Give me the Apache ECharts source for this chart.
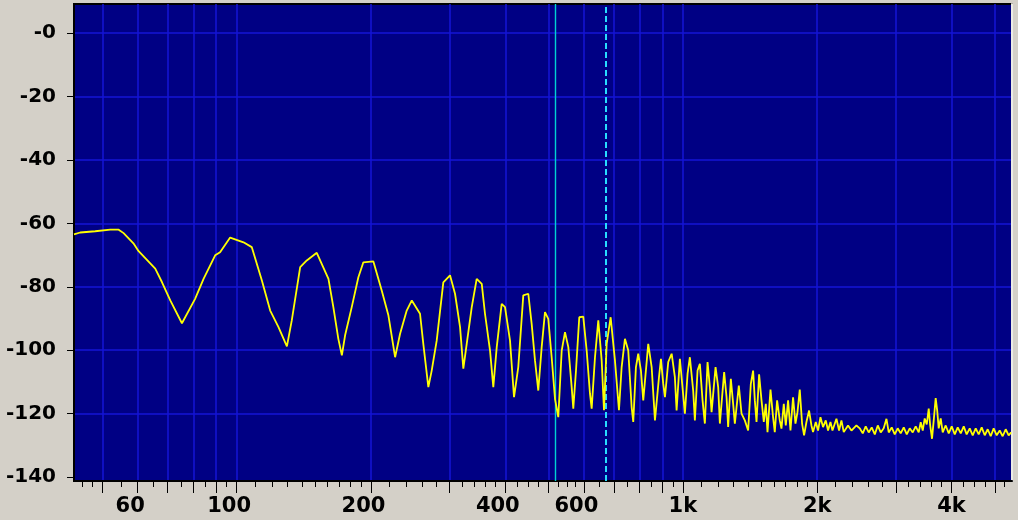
<!DOCTYPE html>
<html><head><meta charset="utf-8">
<script src="https://cdn.jsdelivr.net/npm/echarts@6/dist/echarts.min.js"></script>
<style>html,body{margin:0;padding:0;background:#d4d0c8;}#c{width:1018px;height:520px;}</style>
</head><body><div id="c"></div>
<script>
// Spectrum trace: frequency (Hz) and level (dB)
const freqHz = [43.2,44.6,48.2,52.1,54.4,55.8,58.7,60.3,65.7,68.0,71.0,75.4,80.7,84.3,89.5,91.8,96.7,103.6,108.1,113.9,118.9,124.1,129.6,132.9,138.8,143.6,151.2,160.6,
164.7,169.0,172.1,175.0,181.1,187.4,192.3,202.5,211.4,218.8,226.5,232.4,240.5,246.9,257.6,262.0,268.9,273.6,280.8,290.5,300.7,308.6,316.7,322.1,327.8,336.4,345.1,354.2,360.2,369.7,376.0,382.7,392.6,399.4,409.8,418.4,427.7,438.9,450.4,458.3,466.2,474.2,482.6,490.9,499.3,508.1,516.9,525.8,535.1,544.3,553.7,563.4,568.1,576.1,585.9,598.1,608.7,619.2,624.6,635.4,646.3,657.7,665.6,674.9,688.9,704.3,719.1,729.1,741.6,754.4,767.7,774.1,784.9,794.3,805.4,815.1,836.4,
851.2,865.8,884.0,893.0,903.7,911.7,927.3,943.7,959.6,968.1,984.7,996.5,1010.4,1024.5,1036.8,1054.6,1063.9,1078.7,1091.7,1106.9,1120.2,1135.8,1149.5,1159.6,1183.7,1199.8,1210.3,1237.4,1252.8,1263.2,1280.8,1296.2,1307.6,1334.7,1353.6,1376.8,1400.5,1420.0,1436.8,
1449.6,1462.3,1482.0,1500.5,1518.3,1534.1,1547.6,1571.7,1592.8,1606.8,1626.2,1648.8,1663.3,1683.3,1700.8,1720.9,1742.4,1765.8,1787.8,1806.5,1827.9,1849.9,1869.1,1892.0,1917.9,1941.4,1957.6,1985.3,2008.8,2034.0,2061.3,2090.5,2115.2,2141.6,2163.9,2208.7,2238.9,2266.4,2293.7,2345.0,2386.4,2448.8,
2491,2530,2569,2609,2650,2692,2734,2776,2819,2859,2893,2938,2984,3030,3077,3126,3175,3224,3274,3325,3377,3412,3448,3483,3520,3556,3583,3617,3649,3686,3715,3744,3783,3822,3882,3943,4004,4067,4130,4195,4260,4325,4394,4462,4532,4602,4674,4747,4821,4896,4972,5050,5129,5208,5290,5372,5442];
const levelDb = [-63.5,-62.9,-62.5,-62.0,-62.0,-63.1,-66.3,-68.8,-74.3,-78.5,-84.3,-91.5,-83.8,-77.5,-70.1,-69.1,-64.5,-66.0,-67.5,-78.0,-87.5,-92.7,-98.8,-90.6,-73.8,-71.7,-69.3,-77.5,
-86.4,-96.4,-101.6,-95.3,-86.4,-77.0,-72.3,-72.0,-81.2,-89.0,-102.2,-94.8,-87.5,-84.3,-88.5,-98.0,-111.6,-106.4,-96.9,-78.6,-76.4,-82.2,-92.7,-105.8,-98.0,-86.4,-77.5,-79.1,-88.5,-100.1,-111.6,-99.0,-85.4,-86.4,-96.9,-114.8,-105.3,-82.7,-82.2,-91.7,-103.2,-112.7,-99.0,-88.0,-90.1,-102.2,-115.3,-121.1,-100.1,-94.3,-99.0,-111.6,-118.4,-106.4,-89.6,-89.4,-100.1,-113.7,-118.4,-102.2,-90.6,-103.2,-118.9,-98.0,-89.6,-103.2,-118.9,-105.3,-96.4,-100.1,-117.9,-122.6,-105.3,-101.1,-106.4,-115.8,-98.0,
-105.3,-122.1,-108.5,-102.7,-110.6,-114.8,-103.7,-101.1,-108.5,-119.0,-102.7,-110.6,-120.0,-107.4,-102.2,-112.7,-122.1,-106.4,-104.3,-115.8,-123.1,-103.7,-111.6,-119.5,-105.3,-111.6,-123.1,-106.9,-114.8,-124.2,-109.0,-116.9,-123.1,-111.1,-120.0,-122.1,-125.3,-110.6,-106.4,
-115.8,-122.6,-107.6,-115.8,-122.6,-116.9,-125.8,-112.4,-121.1,-125.8,-115.8,-122.1,-124.7,-116.9,-123.7,-115.8,-125.3,-114.8,-123.1,-119.5,-112.4,-123.1,-126.8,-122.6,-119.0,-123.7,-125.8,-122.6,-125.3,-121.1,-124.2,-122.1,-125.3,-122.6,-125.3,-121.6,-125.3,-122.1,-125.8,-123.7,-125.3,-123.7,
-124.6,-126.2,-124.0,-125.9,-124.3,-126.5,-123.7,-125.9,-124.6,-121.6,-125.9,-124.3,-126.5,-124.6,-126.2,-124.3,-126.5,-124.6,-125.9,-124.0,-125.9,-122.7,-125.3,-121.5,-123.4,-118.4,-123.7,-127.9,-122.1,-115.1,-119.0,-124.6,-121.5,-125.9,-123.7,-126.2,-124.0,-126.5,-124.3,-126.2,-124.0,-126.5,-124.6,-126.8,-124.6,-126.5,-124.3,-126.8,-124.9,-127.1,-124.6,-126.8,-125.3,-127.1,-124.9,-126.8,-125.9];

const xLabelValues = [60,100,200,400,600,1000,2000,4000];
const xGridValues = [50,60,70,80,90,100,200,300,400,500,600,700,800,900,1000,2000,3000,4000,5000];
const xMinorValues = [45,47.5,55,65,75,85,95,110,120,130,140,150,160,170,180,190,220,240,260,280,320,340,360,380,425,450,475,525,550,575,650,750,850,950,1100,1200,1300,1400,1500,1600,1700,1800,1900,2200,2400,2600,2800,3200,3400,3600,3800,4250,4500,4750,5250];
const yLabelValues = [-140,-120,-100,-80,-60,-40,-20,0];
const yGridValues = [-120,-100,-80,-60,-40,-20,0];
const cursorSolidHz = 516.8;
const cursorDashedHz = 672.9;

const X_MIN = 43.2, X_MAX = 5465, Y_MIN = -141.2, Y_MAX = 9.1;
const FONT = 'DejaVu Sans';
const GRID_COLOR = '#1414d6';
const gridBox = {left: 74, right: 6, top: 4, bottom: 39};

const chart = echarts.init(document.getElementById('c'), null, {renderer: 'canvas'});
chart.setOption({
  animation: false,
  backgroundColor: '#d4d0c8',
  grid: [
    Object.assign({show: true, backgroundColor: '#000084', borderWidth: 0}, gridBox),
    Object.assign({show: true, backgroundColor: 'transparent', borderColor: '#000', borderWidth: 2}, gridBox)
  ],
  xAxis: [
    {
      type: 'log', logBase: 10, gridIndex: 0, min: X_MIN, max: X_MAX, position: 'bottom',
      axisLine: {show: true, onZero: false, lineStyle: {color: '#000', width: 2}},
      axisTick: {show: true, length: 12, customValues: xGridValues, lineStyle: {color: '#000', width: 1}},
      axisLabel: {
        show: true, customValues: xLabelValues, margin: 15, color: '#000', fontFamily: FONT, fontWeight: 'bold', fontSize: 21,
        formatter: v => v >= 1000 ? (v / 1000) + 'k' : '{s|' + v + '}',
        rich: {s: {padding: [0, 15, 0, 0], color: '#000', fontFamily: FONT, fontWeight: 'bold', fontSize: 21}}
      },
      splitLine: {show: true, lineStyle: {color: GRID_COLOR, width: 1.5}},
      minorTick: {show: false}, minorSplitLine: {show: false}
    },
    {
      type: 'log', logBase: 10, gridIndex: 1, min: X_MIN, max: X_MAX, position: 'bottom',
      axisLine: {show: false, onZero: false},
      axisTick: {show: true, length: 6, customValues: xMinorValues, lineStyle: {color: '#000', width: 1}},
      axisLabel: {show: false},
      splitLine: {show: false}
    }
  ],
  yAxis: [
    {
      type: 'value', gridIndex: 0, min: Y_MIN, max: Y_MAX, position: 'left',
      axisLine: {show: true, onZero: false, lineStyle: {color: '#000', width: 2}},
      axisTick: {show: true, length: 7, customValues: yLabelValues, lineStyle: {color: '#000', width: 1}},
      axisLabel: {show: true, customValues: yLabelValues, margin: 18, color: '#000', fontFamily: FONT, fontWeight: 'bold', fontSize: 20,
        formatter: v => v === 0 ? '-0' : String(v)},
      splitLine: {show: false}
    },
    {
      type: 'value', gridIndex: 0, min: Y_MIN, max: Y_MAX, position: 'right',
      axisLine: {show: true, onZero: false, lineStyle: {color: '#ecebe6', width: 2}},
      axisTick: {show: false}, axisLabel: {show: false}, splitLine: {show: false}
    },
    {
      type: 'value', gridIndex: 1, min: Y_MIN, max: Y_MAX, position: 'left',
      axisLine: {show: false, onZero: false},
      axisTick: {show: false, customValues: yGridValues},
      axisLabel: {show: false},
      splitLine: {show: true, lineStyle: {color: GRID_COLOR, width: 1.5}}
    }
  ],
  series: [{
    type: 'line', xAxisIndex: 0, yAxisIndex: 0,
    data: freqHz.map((f, i) => [f, levelDb[i]]),
    showSymbol: false, symbol: 'none', z: 5,
    lineStyle: {color: '#ffff00', width: 1.8},
    markLine: {
      silent: true, symbol: ['none', 'none'], label: {show: false}, animation: false,
      data: [
        {xAxis: cursorSolidHz, lineStyle: {color: '#00d2d2', width: 1.4, type: 'solid'}},
        {xAxis: cursorDashedHz, lineStyle: {color: '#28dcff', width: 2, type: [6, 3]}}
      ]
    }
  }]
});
</script></body></html>
